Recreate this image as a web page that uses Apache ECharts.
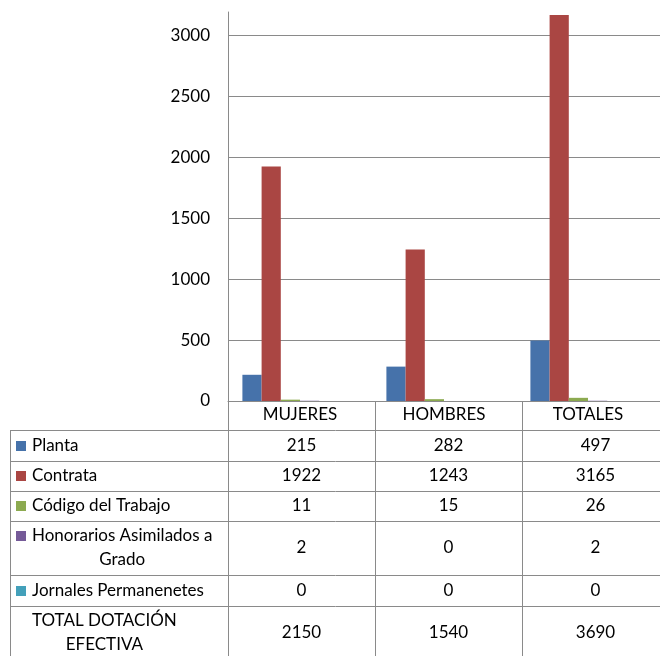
<!DOCTYPE html>
<html>
<head>
<meta charset="utf-8">
<script src="https://cdn.jsdelivr.net/npm/echarts@6/dist/echarts.min.js"></script>
<style>
  html, body { margin: 0; padding: 0; background: #fff; }
  #chart { width: 660px; height: 656px; }
</style>
</head>
<body>
<div id="chart"></div>
<script>
// Dotación efectiva por calidad jurídica y sexo
const categories = ['MUJERES', 'HOMBRES', 'TOTALES'];
const seriesNames = ['Planta', 'Contrata', 'Código del Trabajo', 'Honorarios Asimilados a\nGrado', 'Jornales Permanenetes', 'TOTAL DOTACIÓN\nEFECTIVA'];
const planta = [215, 282, 497];
const contrata = [1922, 1243, 3165];
const codigoTrabajo = [11, 15, 26];
const honorarios = [2, 0, 2];
const jornales = [0, 0, 0];
const totalDotacion = [2150, 1540, 3690];
const yTickStep = 500;
const yMax = 3190;

const seriesValues = [planta, contrata, codigoTrabajo, honorarios, jornales, totalDotacion];
const seriesColors = ['#4672AA', '#AA4643', '#8CAA50', '#755A98', '#43A0BA', null];

const FONT_FAMILY = 'Lato, "Open Sans", "Liberation Sans", sans-serif';
const FONT_SIZE = 17;
const FONT = FONT_SIZE + 'px ' + FONT_FAMILY;
const LINE_COLOR = '#8a8a8a';

// plot area and data table geometry
const W = 660, H = 656;
const plotLeft = 228, plotRight = 669, plotTop = 12, plotBottom = 401;
const tableLeft = 10;
const rowEdges = [401, 430, 461, 491, 521, 575, 606, 660];
const catW = (plotRight - plotLeft) / categories.length;
const colEdges = categories.map((_, i) => plotLeft + i * catW).concat([plotRight]);

const measureCtx = document.createElement('canvas').getContext('2d');
measureCtx.font = FONT;
function textWidth(s) { return measureCtx.measureText(s).width; }

const graphics = [];
function hLine(y, x1, x2) {
  graphics.push({ type: 'line', silent: true, shape: { x1: x1, y1: y + 0.5, x2: x2, y2: y + 0.5 }, style: { stroke: LINE_COLOR, lineWidth: 1 } });
}
function vLine(x, y1, y2) {
  graphics.push({ type: 'line', silent: true, shape: { x1: x + 0.5, y1: y1, x2: x + 0.5, y2: y2 }, style: { stroke: LINE_COLOR, lineWidth: 1 } });
}
function label(text, x, y, align, lineHeight) {
  graphics.push({ type: 'text', silent: true, x: x, y: y,
    style: { text: text, fill: '#000', font: FONT, align: align, verticalAlign: 'middle', lineHeight: lineHeight || 20 } });
}

// table grid lines
for (let r = 1; r < rowEdges.length - 1; r++) hLine(rowEdges[r], tableLeft, plotRight);
vLine(tableLeft, rowEdges[1], H);
colEdges.forEach(x => vLine(x, rowEdges[0], H));

// table body: legend key, row caption and one value per category
const keyX = 16, keySize = 10, textX = 32;
seriesNames.forEach((name, r) => {
  const top = rowEdges[r + 1], bottom = rowEdges[r + 2];
  const mid = (top + bottom) / 2;
  const lines = name.split('\n');
  const lh = 24;
  const firstLineY = mid - (lines.length - 1) * lh / 2;
  if (seriesColors[r]) {
    graphics.push({ type: 'rect', silent: true, shape: { x: keyX, y: Math.round(firstLineY - keySize / 2), width: keySize, height: keySize }, style: { fill: seriesColors[r] } });
  }
  const blockW = Math.max.apply(null, lines.map(textWidth));
  if (lines.length > 1) {
    label(name, textX + blockW / 2, mid, 'center', lh);
  } else {
    label(name, textX, mid, 'left');
  }
  seriesValues[r].forEach((v, c) => {
    label(String(v), (colEdges[c] + colEdges[c + 1]) / 2, mid, 'center');
  });
});

// horizontal grid lines at each labelled tick; the top edge of the axis has none
const tickCount = Math.floor(yMax / yTickStep) + 1;
const splitColors = [];
for (let i = 0; i < tickCount; i++) splitColors.push(LINE_COLOR);
if (yMax % yTickStep !== 0) splitColors.push('rgba(0,0,0,0)');

const chart = echarts.init(document.getElementById('chart'), null, { renderer: 'canvas' });
chart.setOption({
  animation: false,
  backgroundColor: '#fff',
  grid: { left: plotLeft, right: W - plotRight, top: plotTop, bottom: H - plotBottom, containLabel: false },
  xAxis: {
    type: 'category',
    data: categories,
    axisLine: { show: true, lineStyle: { color: LINE_COLOR, width: 1 } },
    axisTick: { show: false },
    axisLabel: { color: '#000', fontFamily: FONT_FAMILY, fontSize: FONT_SIZE, margin: 14, verticalAlign: 'middle' },
    splitLine: { show: false }
  },
  yAxis: {
    type: 'value',
    min: 0,
    max: yMax,
    interval: yTickStep,
    axisLine: { show: true, lineStyle: { color: LINE_COLOR, width: 1 } },
    axisTick: { show: false },
    axisLabel: {
      color: '#000', fontFamily: FONT_FAMILY, fontSize: FONT_SIZE, margin: 18,
      formatter: v => (v % yTickStep === 0 ? String(v) : '')
    },
    splitLine: { show: true, lineStyle: { color: splitColors, width: 1 } }
  },
  series: seriesNames.map((name, i) => ({
    name: name,
    type: 'bar',
    data: seriesValues[i],
    barGap: '0%',
    barCategoryGap: '20%',
    silent: true,
    itemStyle: { color: seriesColors[i] || 'rgba(0,0,0,0)' }
  })),
  graphic: graphics
});
</script>
</body>
</html>
